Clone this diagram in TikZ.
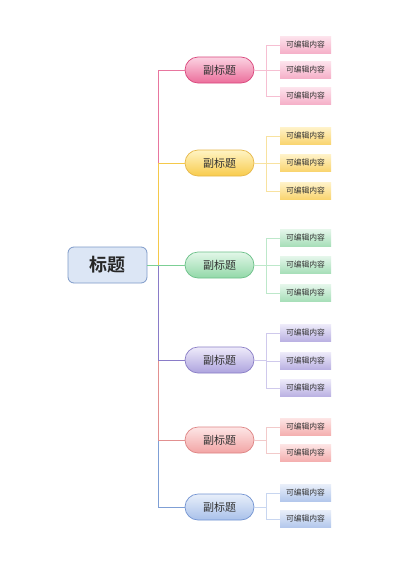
\documentclass[tikz,border=0pt]{standalone}
\usepackage{fontspec}
\newfontfamily\cjk{Noto Sans CJK SC}
\newfontfamily\cjkb{Noto Sans CJK SC Bold}
\begin{document}
\begin{tikzpicture}[x=1pt,y=-1pt,
  subbox/.style={rounded corners=13pt, minimum width=69pt, minimum height=26pt, inner sep=0pt, line width=0.7pt, font=\cjk\fontsize{11}{12}\selectfont, text=black!80},
  leafbox/.style={minimum width=51pt, minimum height=17pt, inner sep=0pt, font=\cjk\fontsize{7.8}{9}\selectfont, text=black!80},
  trunk/.style={line width=0.9pt},
  twig/.style={line width=0.6pt}]
\definecolor{pkL}{HTML}{FBD3E2}\definecolor{pkD}{HTML}{EC6E9B}\definecolor{pkB}{HTML}{D9467C}\definecolor{pkT}{HTML}{F6BFD2}\definecolor{pkLt}{HTML}{FDE3EC}\definecolor{pkLb}{HTML}{F5AFC8}
\definecolor{yeL}{HTML}{FFF4C4}\definecolor{yeD}{HTML}{F8CB4C}\definecolor{yeB}{HTML}{E6B84A}\definecolor{yeT}{HTML}{F8E2A0}\definecolor{yeLt}{HTML}{FFF2C8}\definecolor{yeLb}{HTML}{F9D46E}
\definecolor{grL}{HTML}{E2F7E8}\definecolor{grD}{HTML}{92D8A8}\definecolor{grB}{HTML}{6CC089}\definecolor{grT}{HTML}{BDE8CA}\definecolor{grLt}{HTML}{E4F6EA}\definecolor{grLb}{HTML}{A6DEB8}
\definecolor{puL}{HTML}{EEEBFA}\definecolor{puD}{HTML}{ADA3DE}\definecolor{puB}{HTML}{8A7EC6}\definecolor{puT}{HTML}{CFC9EC}\definecolor{puLt}{HTML}{EDEAF9}\definecolor{puLb}{HTML}{B9B0E2}
\definecolor{rdL}{HTML}{FDE6E6}\definecolor{rdD}{HTML}{F2A4A4}\definecolor{rdB}{HTML}{DE8484}\definecolor{rdT}{HTML}{F2CACA}\definecolor{rdLt}{HTML}{FDE4E4}\definecolor{rdLb}{HTML}{F4AEAE}
\definecolor{blL}{HTML}{E8EFFA}\definecolor{blD}{HTML}{A9C1EA}\definecolor{blB}{HTML}{7394D2}\definecolor{blT}{HTML}{C8D6F0}\definecolor{blLt}{HTML}{E8EEF9}\definecolor{blLb}{HTML}{B2C7EC}
\definecolor{mainF}{HTML}{DCE6F5}\definecolor{mainB}{HTML}{7E9AC9}
\definecolor{lnPk}{HTML}{E8769F}\definecolor{lnYe}{HTML}{F5C94A}\definecolor{lnGr}{HTML}{7CCF95}\definecolor{lnPu}{HTML}{8A7CC8}\definecolor{lnRd}{HTML}{E29090}\definecolor{lnBl}{HTML}{7F9FD5}
\useasboundingbox[fill=white] (0,0) rectangle (400,565);

\node[draw=mainB, fill=mainF, rounded corners=6pt, minimum width=79pt, minimum height=36pt, inner sep=0pt, line width=0.8pt, font=\cjkb\fontsize{18}{20}\selectfont, text=black!85] (m) at (107.5,265) {标题};

\coordinate (T) at (158,265);

% sub nodes
\node[subbox, draw=pkB, top color=pkL, bottom color=pkD] (s1) at (219.5,70) {副标题};
\node[subbox, draw=yeB, top color=yeL, bottom color=yeD] (s2) at (219.5,163) {副标题};
\node[subbox, draw=grB, top color=grL, bottom color=grD] (s3) at (219.5,265) {副标题};
\node[subbox, draw=puB, top color=puL, bottom color=puD] (s4) at (219.5,360) {副标题};
\node[subbox, draw=rdB, top color=rdL, bottom color=rdD] (s5) at (219.5,440) {副标题};
\node[subbox, draw=blB, top color=blL, bottom color=blD] (s6) at (219.5,507) {副标题};

% trunk connectors
\draw[trunk, lnPk] (T) |- (s1.west);
\draw[trunk, lnYe] (T) |- (s2.west);
\draw[trunk, lnBl] (T) |- (s6.west);
\draw[trunk, lnRd] (T) |- (s5.west);
\draw[trunk, lnPu] (T) |- (s4.west);
\draw[trunk, lnGr] (m.east) -- (s3.west);

% leaves
\node[leafbox, top color=pkLt, bottom color=pkLb] (l11) at (305.5,45) {可编辑内容};
\node[leafbox, top color=pkLt, bottom color=pkLb] (l12) at (305.5,70) {可编辑内容};
\node[leafbox, top color=pkLt, bottom color=pkLb] (l13) at (305.5,96) {可编辑内容};
\node[leafbox, top color=yeLt, bottom color=yeLb] (l21) at (305.5,136) {可编辑内容};
\node[leafbox, top color=yeLt, bottom color=yeLb] (l22) at (305.5,163) {可编辑内容};
\node[leafbox, top color=yeLt, bottom color=yeLb] (l23) at (305.5,191) {可编辑内容};
\node[leafbox, top color=grLt, bottom color=grLb] (l31) at (305.5,238) {可编辑内容};
\node[leafbox, top color=grLt, bottom color=grLb] (l32) at (305.5,265) {可编辑内容};
\node[leafbox, top color=grLt, bottom color=grLb] (l33) at (305.5,293) {可编辑内容};
\node[leafbox, top color=puLt, bottom color=puLb] (l41) at (305.5,333) {可编辑内容};
\node[leafbox, top color=puLt, bottom color=puLb] (l42) at (305.5,361) {可编辑内容};
\node[leafbox, top color=puLt, bottom color=puLb] (l43) at (305.5,388) {可编辑内容};
\node[leafbox, top color=rdLt, bottom color=rdLb] (l51) at (305.5,427) {可编辑内容};
\node[leafbox, top color=rdLt, bottom color=rdLb] (l52) at (305.5,453) {可编辑内容};
\node[leafbox, top color=blLt, bottom color=blLb] (l61) at (305.5,493) {可编辑内容};
\node[leafbox, top color=blLt, bottom color=blLb] (l62) at (305.5,519) {可编辑内容};

% junctions
\coordinate (j1) at (266,70);
\coordinate (j2) at (266,163);
\coordinate (j3) at (266,265);
\coordinate (j4) at (266,360);
\coordinate (j5) at (266,440);
\coordinate (j6) at (266,507);

\draw[twig, pkT] (s1.east) -- (j1) (j1) |- (l11.west) (j1) |- (l12.west) (j1) |- (l13.west);
\draw[twig, yeT] (s2.east) -- (j2) (j2) |- (l21.west) (j2) |- (l22.west) (j2) |- (l23.west);
\draw[twig, grT] (s3.east) -- (j3) (j3) |- (l31.west) (j3) |- (l32.west) (j3) |- (l33.west);
\draw[twig, puT] (s4.east) -- (j4) (j4) |- (l41.west) (j4) |- (l42.west) (j4) |- (l43.west);
\draw[twig, rdT] (s5.east) -- (j5) (j5) |- (l51.west) (j5) |- (l52.west);
\draw[twig, blT] (s6.east) -- (j6) (j6) |- (l61.west) (j6) |- (l62.west);
\end{tikzpicture}
\end{document}
